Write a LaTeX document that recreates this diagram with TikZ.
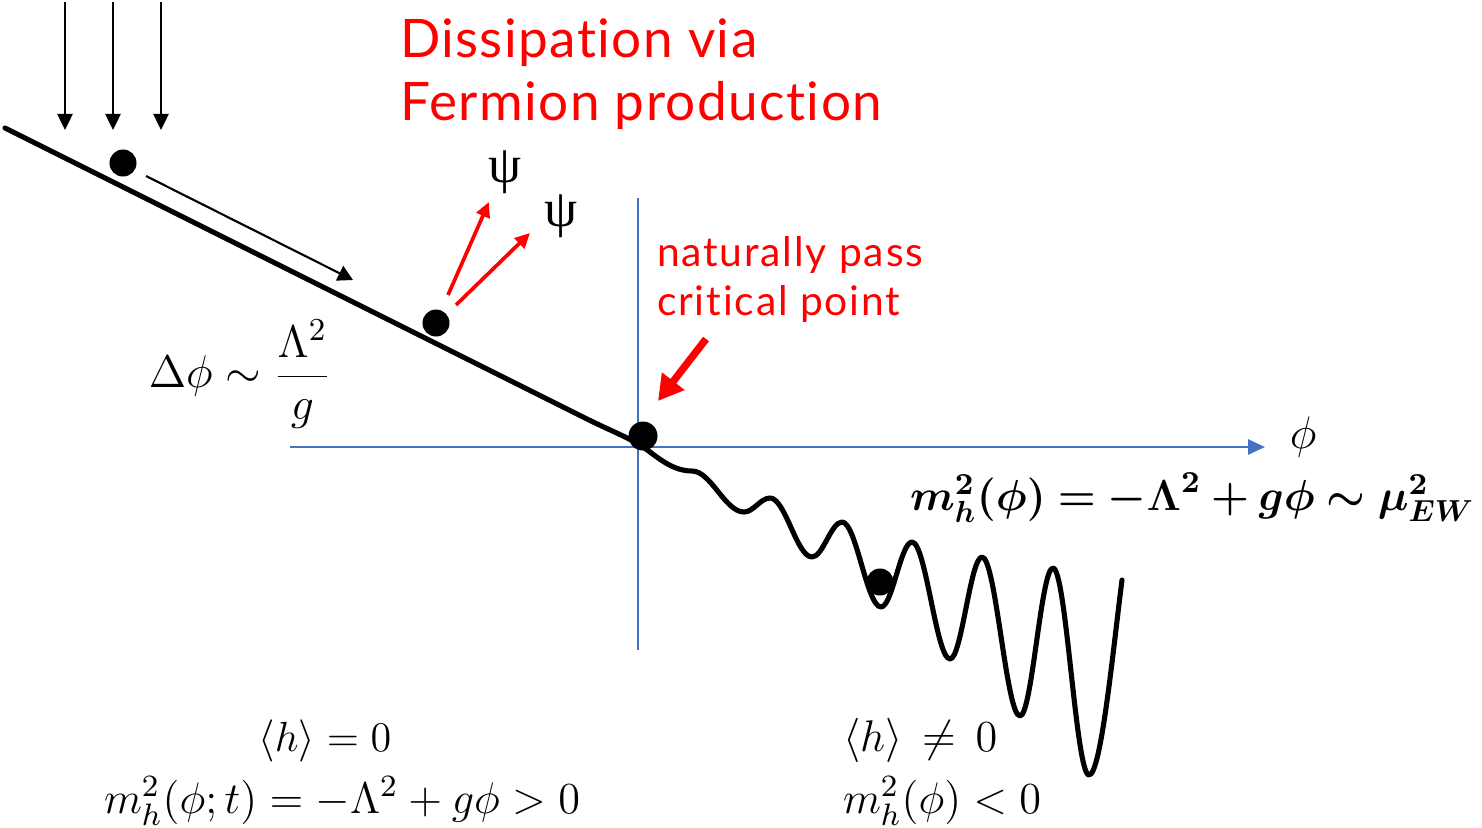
\RequirePackage{fix-cm}
\documentclass[tikz,border=0pt]{standalone}
\usepackage{fontspec}
\usepackage{amsmath}
\usepackage{bm}
\usetikzlibrary{arrows.meta}
\newfontfamily\redfontA[Ligatures=NoCommon,LetterSpace=2.7]{Lato}
\newfontfamily\redfontB[Ligatures=NoCommon,LetterSpace=4.5]{Lato}
\newfontfamily\greekfont{Liberation Serif}
\definecolor{axisblue}{RGB}{68,114,196}
\definecolor{pred}{RGB}{255,0,0}
\begin{document}
\begin{tikzpicture}[x=0.01cm,y=-0.01cm,
  lbl/.style={inner sep=0pt,outer sep=0pt},
  redtext/.style={lbl,anchor=base west,text=pred},
  mathtext/.style={lbl,font=\fontsize{12.6}{14}\selectfont},
  ball/.style={circle,fill=black,inner sep=0pt,minimum size=0.27cm},
  potential/.style={line width=1.45pt,line cap=round,line join=round},
  rain/.style={line width=0.7pt,-{Triangle[length=0.16cm,width=0.15cm]}},
  rollarrow/.style={line width=0.6pt,-{Triangle[length=0.15cm,width=0.16cm]}},
  axis/.style={axisblue,line width=0.75pt},
  psiarrow/.style={pred,line width=1.05pt,-{Triangle[length=0.15cm,width=0.14cm]}},
  bigarrow/.style={pred,line width=2.1pt,-{Triangle[length=0.25cm,width=0.27cm]}}]
\useasboundingbox (0,0) rectangle (1482,827);

% axes
\coordinate (xl) at (290,447);
\coordinate (xr) at (1265,447);
\coordinate (yt) at (638,198);
\coordinate (yb) at (638,650);
\draw[axis,-{Triangle[length=0.17cm,width=0.15cm]}] (xl) -- (xr);
\draw[axis] (yt) -- (yb);
\node[lbl,font=\fontsize{13}{15}\selectfont] (philab) at (1303,437) {$\phi$};

% falling arrows
\foreach \i/\x in {1/65,2/113,3/161}{
  \coordinate (rt\i) at (\x,2);
  \coordinate (rb\i) at (\x,130);
  \draw[rain] (rt\i) -- (rb\i);
}

% balls (drawn under the potential)
\node[ball] (b1) at (123,163) {};
\node[ball] (b2) at (436,323) {};
\node[ball] (b4) at (880,582) {};

% potential
\draw[potential] (5,128) -- (585,418)
  .. controls (605,428) and (620,434) .. (635,442)
  .. controls (652,451) and (668,471) .. (692,471)
  .. controls (711,471) and (725,512) .. (744,512)
  .. controls (753.5,512) and (760.5,498) .. (770,498)
  .. controls (785.3,498) and (796.7,557) .. (812,557)
  .. controls (822.9,557) and (831.1,522) .. (842,522)
  .. controls (856.2,522) and (866.8,607) .. (881,607)
  .. controls (892.3,607) and (900.7,542) .. (912,542)
  .. controls (925.8,542) and (936.2,659) .. (950,659)
  .. controls (961.6,659) and (970.4,557) .. (982,557)
  .. controls (995.8,557) and (1006.2,716) .. (1020,716)
  .. controls (1032,716) and (1041,568) .. (1053,568)
  .. controls (1066.1,568) and (1075.9,775) .. (1089,775)
  .. controls (1101,775) and (1113,650) .. (1122,580);

\node[ball,minimum size=0.29cm] (b3) at (643,436) {};

% rolling arrow
\coordinate (ra1) at (146,176);
\coordinate (ra2) at (353,280);
\draw[rollarrow] (ra1) -- (ra2);

% fermion arrows
\coordinate (pa1) at (448,295);
\coordinate (pa2) at (489,202);
\coordinate (pb1) at (456,305);
\coordinate (pb2) at (530,233);
\draw[psiarrow] (pa1) -- (pa2);
\draw[psiarrow] (pb1) -- (pb2);
\node[lbl,font=\greekfont\fontsize{15}{18}\selectfont] (psi1) at (505,172) {ψ};
\node[lbl,font=\greekfont\fontsize{15}{18}\selectfont] (psi2) at (561,216) {ψ};

% critical point arrow
\coordinate (ca1) at (706,339);
\coordinate (ca2) at (658,401);
\draw[bigarrow] (ca1) -- (ca2);

% red texts
\node[redtext,font=\redfontA\fontsize{15.1}{18}\selectfont] (diss1) at (400,57) {Dissipation via};
\node[redtext,font=\redfontA\fontsize{15.1}{18}\selectfont] (diss2) at (400,120) {Fermion production};
\node[redtext,font=\redfontB\fontsize{11.6}{14}\selectfont] (nat1) at (657,266) {naturally pass};
\node[redtext,font=\redfontB\fontsize{11.6}{14}\selectfont] (nat2) at (657,315) {critical point};

% math labels
\node[mathtext,font=\fontsize{13}{15}\selectfont] (dphi) at (240,374) {$\Delta\phi \sim \dfrac{\Lambda^2}{g}$};
\node[mathtext,anchor=base west,font=\fontsize{12.35}{15}\selectfont] (mform) at (910,510)
  {$\bm{m_h^2(\phi) = -\Lambda^2 + g\phi \sim \mu_{EW}^2}$};
\node[mathtext,anchor=base,font=\fontsize{12}{14}\selectfont] (hzero) at (325,751) {$\langle h\rangle = 0$};
\node[mathtext,anchor=base] (mpos) at (342,813) {$m_h^2(\phi;t) = -\Lambda^2 + g\phi > 0$};
\node[mathtext,anchor=base west] (hnz) at (843,751) {$\langle h\rangle \,\neq\, 0$};
\node[mathtext,anchor=base west] (mneg) at (843,813) {$m_h^2(\phi) < 0$};
\end{tikzpicture}
\end{document}
